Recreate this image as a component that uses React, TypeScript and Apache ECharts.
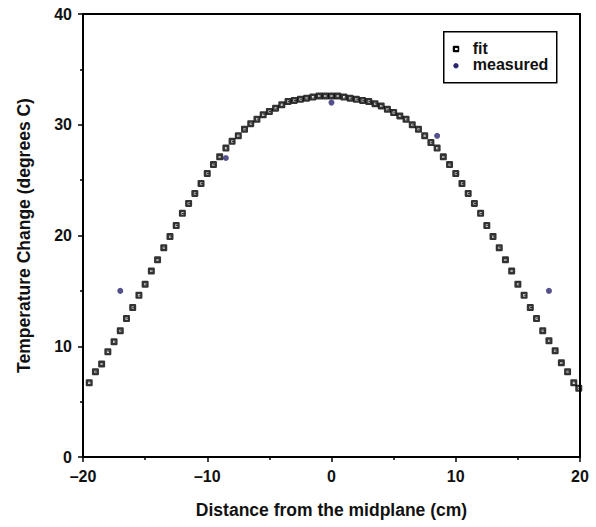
import React, { useEffect, useRef } from "react";
import * as echarts from "echarts";

// Fit curve (x in cm, temperature change in degrees C)
const fitX = [
  -19.5, -19, -18.5, -18, -17.5, -17, -16.5, -16, -15.5, -15, -14.5, -14, -13.5, -13, -12.5, -12,
  -11.5, -11, -10.5, -10, -9.5, -9, -8.5, -8, -7.5, -7, -6.5, -6, -5.5, -5, -4.5, -4, -3.5, -3,
  -2.5, -2, -1.5, -1, -0.5, 0, 0.5, 1, 1.5, 2, 2.5, 3, 3.5, 4, 4.5, 5, 5.5, 6, 6.5, 7, 7.5, 8,
  8.5, 9, 9.5, 10, 10.5, 11, 11.5, 12, 12.5, 13, 13.5, 14, 14.5, 15, 15.5, 16, 16.5, 17, 17.5,
  18, 18.5, 19, 19.5, 19.9,
];
const fitY = [
  6.7, 7.7, 8.4, 9.5, 10.4, 11.4, 12.5, 13.5, 14.6, 15.6, 16.8, 17.8, 18.9, 19.9, 20.9, 22.0,
  22.9, 23.8, 24.7, 25.6, 26.4, 27.1, 27.9, 28.5, 29.0, 29.6, 30.1, 30.5, 30.9, 31.2, 31.5, 31.8,
  32.1, 32.2, 32.3, 32.4, 32.5, 32.6, 32.6, 32.6, 32.6, 32.5, 32.4, 32.3, 32.2, 32.1, 31.9, 31.7,
  31.4, 31.1, 30.8, 30.5, 30.0, 29.6, 29.0, 28.4, 27.9, 27.1, 26.4, 25.6, 24.7, 23.8, 22.9, 22.0,
  20.9, 19.9, 18.9, 17.8, 16.8, 15.6, 14.6, 13.5, 12.5, 11.4, 10.5, 9.6, 8.5, 7.7, 6.7, 6.2,
];

// Measured points
const measuredX = [-17, -8.5, 0, 8.5, 17.5];
const measuredY = [15, 27, 32, 29, 15];

const xTicks = { min: -20, max: 20, interval: 10 };
const yTicks = { min: 0, max: 40, interval: 10 };

const xTitle = "Distance from the midplane (cm)";
const yTitle = "Temperature Change (degrees C)";
const legendNames = ["fit", "measured"];

const FONT = "'Liberation Sans', Arial, sans-serif";
const fitSymbol =
  "path://M1.5 0H8.5Q10 0 10 1.5V8.5Q10 10 8.5 10H1.5Q0 10 0 8.5V1.5Q0 0 1.5 0ZM3.6 3.6V6.6H6.8V5.8H4.4V4.4H6.8V3.6Z";
const measuredColor = "#2a2670";

export default function App() {
  const ref = useRef<HTMLDivElement>(null);

  useEffect(() => {
    if (!ref.current) return;
    const chart = echarts.init(ref.current, undefined, { renderer: "svg" });
    const fmt = (v: number) => (v < 0 ? "\u2013" + Math.abs(v) : String(v));
    const labelStyle = {
      color: "#111",
      fontFamily: FONT,
      fontWeight: "bold" as const,
      fontSize: 16,
    };
    chart.setOption({
      animation: false,
      backgroundColor: "#fff",
      grid: {
        left: 83,
        right: 16,
        top: 14,
        bottom: 70,
        show: true,
        borderColor: "#000",
        borderWidth: 2,
      },
      xAxis: {
        type: "value",
        min: xTicks.min,
        max: xTicks.max,
        interval: xTicks.interval,
        name: xTitle,
        nameLocation: "middle",
        nameGap: 44,
        nameTextStyle: { ...labelStyle, fontSize: 17.5 },
        axisLine: { show: true, onZero: false, lineStyle: { color: "#000", width: 2 } },
        axisTick: { show: true, length: 5, lineStyle: { color: "#000", width: 1.5 } },
        minorTick: { show: true, splitNumber: 2, length: 3, lineStyle: { color: "#000", width: 1.5 } },
        splitLine: { show: false },
        axisLabel: { ...labelStyle, margin: 11, formatter: fmt },
      },
      yAxis: {
        type: "value",
        min: yTicks.min,
        max: yTicks.max,
        interval: yTicks.interval,
        name: yTitle,
        nameLocation: "middle",
        nameGap: 50,
        nameRotate: 90,
        nameTextStyle: { ...labelStyle, fontSize: 17.5 },
        axisLine: { show: true, onZero: false, lineStyle: { color: "#000", width: 2 } },
        axisTick: { show: true, length: 5, lineStyle: { color: "#000", width: 1.5 } },
        minorTick: { show: true, splitNumber: 2, length: 3, lineStyle: { color: "#000", width: 1.5 } },
        splitLine: { show: false },
        axisLabel: { ...labelStyle, margin: 11, formatter: fmt },
      },
      series: [
        {
          name: legendNames[0],
          type: "scatter",
          symbol: fitSymbol,
          symbolSize: 7,
          itemStyle: { color: "#000" },
          data: fitX.map((x, i) => [x, fitY[i]]),
          z: 2,
        },
        {
          name: legendNames[1],
          type: "scatter",
          symbol: "circle",
          symbolSize: 6,
          itemStyle: { color: measuredColor },
          data: measuredX.map((x, i) => [x, measuredY[i]]),
          z: 3,
        },
      ],
      graphic: [
        {
          type: "group",
          left: 443,
          top: 31,
          children: [
            {
              type: "rect",
              shape: { x: 0, y: 0, width: 113, height: 51 },
              style: { fill: "#fff", stroke: "#000", lineWidth: 1.5 },
            },
            {
              type: "rect",
              shape: { x: 9, y: 14, width: 6.5, height: 6.5, r: 1.2 },
              style: { fill: "#000" },
            },
            {
              type: "rect",
              shape: { x: 11.3, y: 16.3, width: 2.6, height: 2 },
              style: { fill: "#fff" },
            },
            {
              type: "circle",
              shape: { cx: 12.2, cy: 34, r: 2.7 },
              style: { fill: measuredColor },
            },
            {
              type: "text",
              x: 29,
              y: 17,
              style: {
                text: legendNames[0],
                fill: "#111",
                font: "bold 16px " + FONT,
                lineHeight: 16,
                verticalAlign: "middle",
              },
            },
            {
              type: "text",
              x: 29,
              y: 33,
              style: {
                text: legendNames[1],
                fill: "#111",
                font: "bold 16px " + FONT,
                lineHeight: 16,
                verticalAlign: "middle",
              },
            },
          ],
        },
      ],
    });
    return () => chart.dispose();
  }, []);

  return (
    <div
      ref={ref}
      style={{ position: "fixed", left: 0, top: 0, width: 596, height: 527 }}
    />
  );
}
